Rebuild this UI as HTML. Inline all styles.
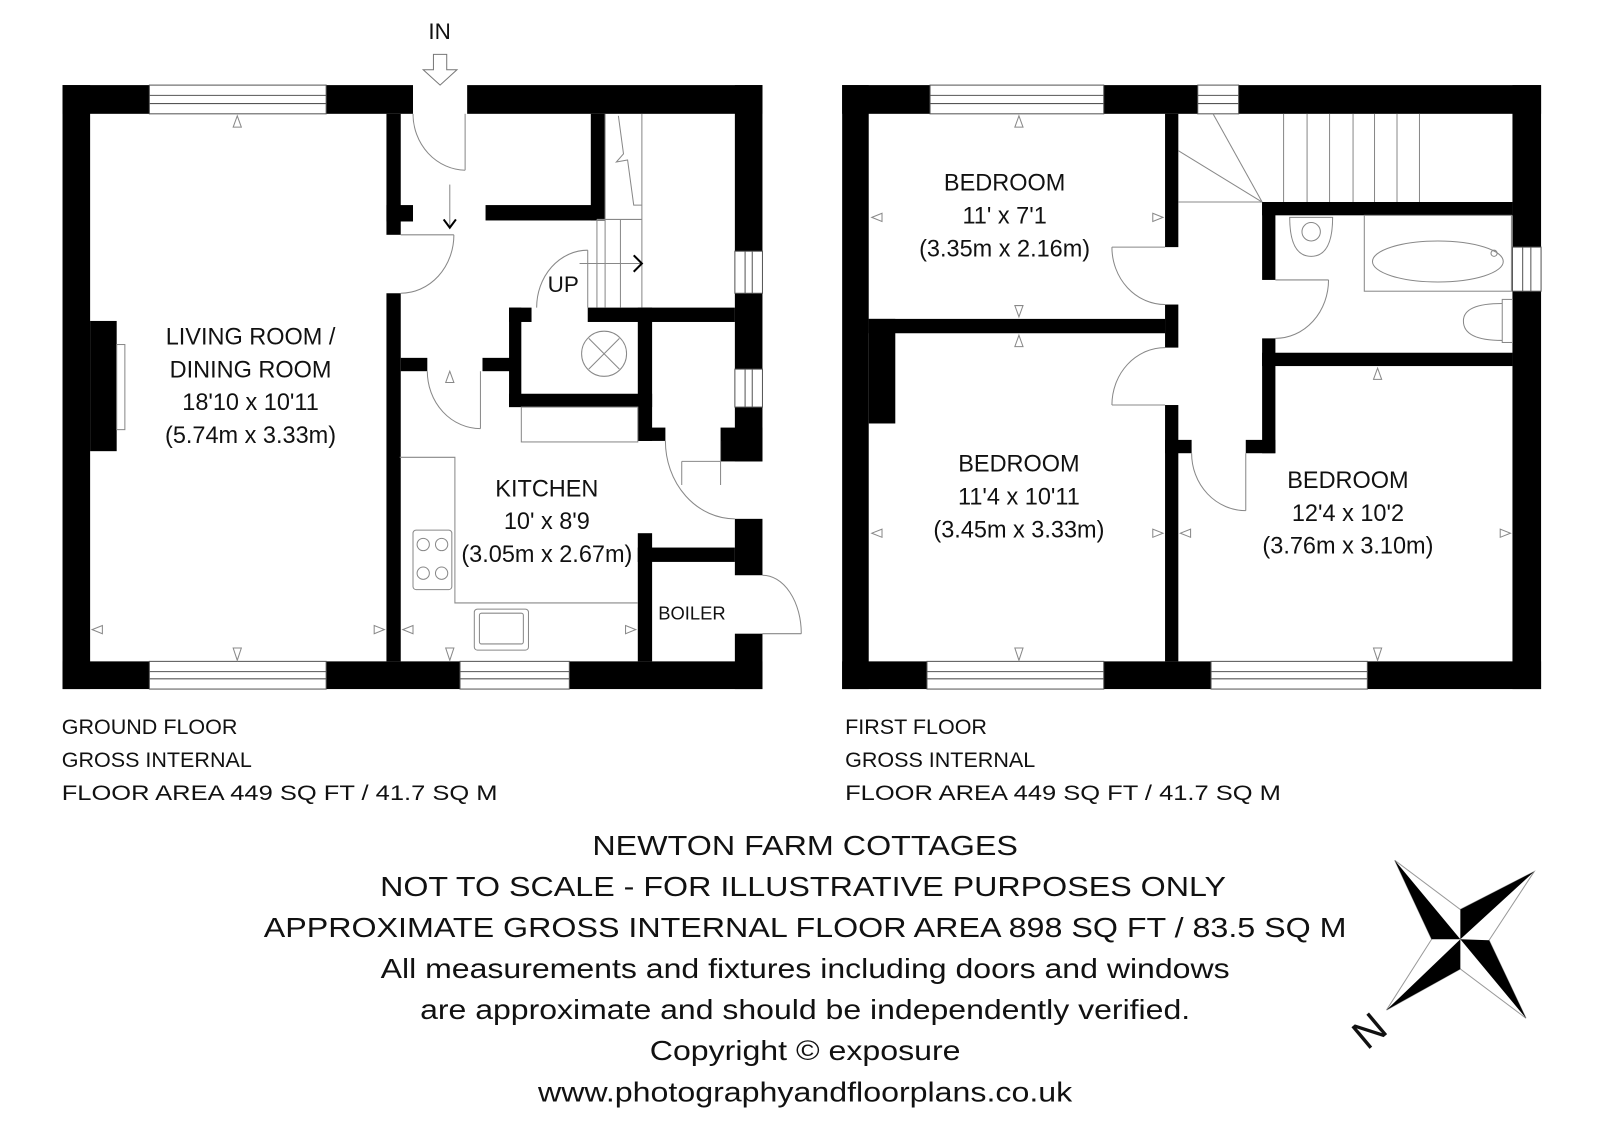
<!DOCTYPE html>
<html><head><meta charset="utf-8"><style>
html,body{margin:0;padding:0;background:#fff;}
svg{display:block;}
text{font-family:"Liberation Sans",Arial,sans-serif;fill:#111;}
</style></head><body>
<svg width="1600" height="1131" viewBox="0 0 1560 1103" xmlns="http://www.w3.org/2000/svg">
<rect x="0" y="0" width="1560" height="1103" fill="#fff"/>
<g transform="scale(0.9965,1)">
<g fill="#000">
<rect x="61" y="83" width="27" height="589"/>
<rect x="719" y="83" width="27" height="367"/>
<rect x="719" y="506" width="27" height="55"/>
<rect x="719" y="618" width="27" height="54"/>
<rect x="61" y="83" width="85" height="28"/>
<rect x="319" y="83" width="85" height="28"/>
<rect x="457" y="83" width="289" height="28"/>
<rect x="61" y="645" width="85" height="27"/>
<rect x="319" y="645" width="131" height="27"/>
<rect x="557" y="645" width="189" height="27"/>
<rect x="88" y="313" width="26" height="127"/>
<rect x="378" y="111" width="14" height="118"/>
<rect x="378" y="200" width="26" height="16"/>
<rect x="378" y="286" width="14" height="359"/>
<rect x="475" y="200" width="117" height="15"/>
<rect x="578" y="111" width="14" height="104"/>
<rect x="575" y="300" width="144" height="14"/>
<rect x="498" y="300" width="12" height="97"/>
<rect x="498" y="300" width="22" height="14"/>
<rect x="498" y="384" width="140" height="13"/>
<rect x="624" y="300" width="14" height="130"/>
<rect x="624" y="417" width="27" height="13"/>
<rect x="705" y="417" width="41" height="33"/>
<rect x="392" y="349" width="26" height="13"/>
<rect x="472" y="349" width="27" height="13"/>
<rect x="624" y="520" width="14" height="125"/>
<rect x="624" y="534" width="95" height="14"/>
</g>
<g fill="#fff" stroke="#555" stroke-width="1">
<rect x="146" y="83" width="173" height="28"/>
<line x1="146" y1="93" x2="319" y2="93"/><line x1="146" y1="101" x2="319" y2="101"/>
<rect x="146" y="645" width="173" height="27"/>
<line x1="146" y1="655" x2="319" y2="655"/><line x1="146" y1="662" x2="319" y2="662"/>
<rect x="450" y="645" width="107" height="27"/>
<line x1="450" y1="655" x2="557" y2="655"/><line x1="450" y1="662" x2="557" y2="662"/>
<rect x="719" y="245" width="27" height="41"/>
<line x1="729" y1="245" x2="729" y2="286"/><line x1="736" y1="245" x2="736" y2="286"/>
<rect x="719" y="360" width="27" height="37"/>
<line x1="729" y1="360" x2="729" y2="397"/><line x1="736" y1="360" x2="736" y2="397"/>
</g>
<g fill="none" stroke="#888" stroke-width="1">
<rect x="114" y="336" width="8" height="83"/>
<line x1="455" y1="111" x2="455" y2="166"/>
<path d="M404 111 A52 55 0 0 0 455 166"/>
<line x1="392" y1="229" x2="444" y2="229"/>
<path d="M444 229 A52 57 0 0 1 392 286"/>
<line x1="470" y1="362" x2="470" y2="418"/>
<path d="M418 362 A52 56 0 0 0 470 418"/>
<line x1="592" y1="111" x2="592" y2="300"/>
<line x1="628" y1="111" x2="628" y2="300"/>
<line x1="584" y1="214" x2="584" y2="300"/>
<line x1="607" y1="214" x2="607" y2="300"/>
<line x1="584" y1="214" x2="628" y2="214"/>
<path d="M605 113 L610 150 L603 158 L614 156 L620 200 L628 200"/>
<line x1="575" y1="244" x2="575" y2="300"/>
<path d="M575 244 A50 56 0 0 0 525 300"/>
<rect x="510" y="397" width="114" height="34"/>
<path d="M651 430 A68 76 0 0 0 719 506"/>
<line x1="667" y1="450" x2="705" y2="450"/>
<line x1="667" y1="450" x2="667" y2="473"/>
<line x1="705" y1="430" x2="705" y2="473"/>
<line x1="746" y1="618" x2="784" y2="618"/>
<path d="M746 561 A38 57 0 0 1 784 618"/>
<polyline points="391,446 445,446 445,588 624,588"/>
<rect x="404" y="517" width="38" height="58" rx="3"/>
<circle cx="414" cy="531" r="6"/><circle cx="432" cy="531" r="6"/>
<circle cx="414" cy="559" r="6"/><circle cx="432" cy="559" r="6"/>
<rect x="464" y="594" width="53" height="40" rx="3"/>
<rect x="469" y="598" width="43" height="30" rx="2"/>
<circle cx="591" cy="345" r="22"/>
<line x1="576" y1="330" x2="606" y2="360"/><line x1="606" y1="330" x2="576" y2="360"/>
<path d="M232 113 L228 124 L236 124 Z M232 644 L228 632 L236 632 Z M90 614 L100 610 L100 618 Z M376 614 L366 610 L366 618 Z M394 614 L404 610 L404 618 Z M440 644 L436 632 L444 632 Z M622 614 L612 610 L612 618 Z M440 362 L436 373 L444 373 Z"/>
</g>
<g fill="none" stroke="#000" stroke-width="2">
<line x1="440" y1="180" x2="440" y2="222" stroke="#888" stroke-width="1"/>
<polyline points="434,214 440,222 446,214"/>
<line x1="567" y1="257" x2="628" y2="257" stroke="#888" stroke-width="1"/>
<polyline points="620,249 628,257 620,265"/>
</g>
<path d="M424 53 L437 53 L437 68 L447 68 L430.5 83 L414 68 L424 68 Z" fill="#fff" stroke="#777" stroke-width="1"/>
<text x="430" y="38" font-size="22" text-anchor="middle">IN</text>
<text x="551" y="285" font-size="22" text-anchor="middle">UP</text>

<g font-size="23" text-anchor="middle">
<text x="245" y="336">LIVING ROOM /</text>
<text x="245" y="368">DINING ROOM</text>
<text x="245" y="400">18'10 x 10'11</text>
<text x="245" y="432">(5.74m x 3.33m)</text>
<text x="535" y="484">KITCHEN</text>
<text x="535" y="516">10' x 8'9</text>
<text x="535" y="548">(3.05m x 2.67m)</text>
</g>
<text x="677" y="604" font-size="18" text-anchor="middle">BOILER</text>

<g fill="#000">
<rect x="824" y="83" width="26" height="589"/>
<rect x="1480" y="83" width="28" height="158"/>
<rect x="1480" y="284" width="28" height="388"/>
<rect x="824" y="83" width="86" height="28"/>
<rect x="1080" y="83" width="92" height="28"/>
<rect x="1212" y="83" width="296" height="28"/>
<rect x="824" y="645" width="83" height="27"/>
<rect x="1080" y="645" width="105" height="27"/>
<rect x="1338" y="645" width="170" height="27"/>
<rect x="850" y="311" width="290" height="14"/>
<rect x="850" y="311" width="26" height="102"/>
<rect x="1140" y="111" width="13" height="130"/>
<rect x="1140" y="297" width="13" height="42"/>
<rect x="1140" y="395" width="13" height="250"/>
<rect x="1140" y="429" width="26" height="13"/>
<rect x="1235" y="197" width="245" height="13"/>
<rect x="1235" y="197" width="13" height="76"/>
<rect x="1235" y="330" width="13" height="112"/>
<rect x="1219" y="429" width="29" height="13"/>
<rect x="1235" y="344" width="245" height="13"/>
</g>
<g fill="#fff" stroke="#555" stroke-width="1">
<rect x="910" y="83" width="170" height="28"/>
<line x1="910" y1="93" x2="1080" y2="93"/><line x1="910" y1="101" x2="1080" y2="101"/>
<rect x="1172" y="83" width="40" height="28"/>
<line x1="1172" y1="93" x2="1212" y2="93"/><line x1="1172" y1="101" x2="1212" y2="101"/>
<rect x="907" y="645" width="173" height="27"/>
<line x1="907" y1="655" x2="1080" y2="655"/><line x1="907" y1="662" x2="1080" y2="662"/>
<rect x="1185" y="645" width="153" height="27"/>
<line x1="1185" y1="655" x2="1338" y2="655"/><line x1="1185" y1="662" x2="1338" y2="662"/>
<rect x="1480" y="241" width="28" height="43"/>
<line x1="1490" y1="241" x2="1490" y2="284"/><line x1="1498" y1="241" x2="1498" y2="284"/>
</g>
<g fill="none" stroke="#888" stroke-width="1">
<line x1="1153" y1="197" x2="1235" y2="197"/>
<line x1="1153" y1="147" x2="1235" y2="197"/>
<line x1="1187" y1="111" x2="1235" y2="197"/>
<line x1="1256" y1="111" x2="1256" y2="197"/><line x1="1279" y1="111" x2="1279" y2="197"/>
<line x1="1301" y1="111" x2="1301" y2="197"/><line x1="1324" y1="111" x2="1324" y2="197"/>
<line x1="1345" y1="111" x2="1345" y2="197"/><line x1="1367" y1="111" x2="1367" y2="197"/>
<line x1="1389" y1="111" x2="1389" y2="197"/>
<line x1="1088" y1="241" x2="1140" y2="241"/>
<path d="M1088 241 A52 56 0 0 0 1140 297"/>
<line x1="1088" y1="395" x2="1140" y2="395"/>
<path d="M1088 395 A52 56 0 0 1 1140 339"/>
<line x1="1248" y1="273" x2="1300" y2="273"/>
<path d="M1300 273 A52 57 0 0 1 1248 330"/>
<line x1="1219" y1="442" x2="1219" y2="498"/>
<path d="M1166 442 A53 56 0 0 0 1219 498"/>
<rect x="1335" y="210" width="144" height="74"/>
<ellipse cx="1407" cy="255" rx="64" ry="20"/>
<circle cx="1462" cy="247" r="3"/>
<path d="M1262 212 Q1262 250 1283 250 Q1304 250 1304 212 Z"/>
<circle cx="1283" cy="226" r="9"/>
<rect x="1470" y="292" width="10" height="42"/>
<path d="M1470 296 Q1432 296 1432 313 Q1432 332 1470 332"/>
<path d="M997 113 L993 124 L1001 124 Z M853 212 L863 208 L863 216 Z M1138 212 L1128 208 L1128 216 Z M997 309 L993 298 L1001 298 Z M997 327 L993 338 L1001 338 Z M853 520 L863 516 L863 524 Z M1138 520 L1128 516 L1128 524 Z M1155 520 L1165 516 L1165 524 Z M997 644 L993 632 L1001 632 Z M1348 359 L1344 370 L1352 370 Z M1478 520 L1468 516 L1468 524 Z M1348 644 L1344 632 L1352 632 Z"/>
</g>
<g font-size="23" text-anchor="middle">
<text x="983" y="186">BEDROOM</text>
<text x="983" y="218">11' x 7'1</text>
<text x="983" y="250">(3.35m x 2.16m)</text>
<text x="997" y="460">BEDROOM</text>
<text x="997" y="492">11'4 x 10'11</text>
<text x="997" y="524">(3.45m x 3.33m)</text>
<text x="1319" y="476">BEDROOM</text>
<text x="1319" y="508">12'4 x 10'2</text>
<text x="1319" y="540">(3.76m x 3.10m)</text>
</g>
</g>
<g font-size="21">
<text x="60" y="716">GROUND FLOOR</text>
<text x="60" y="748">GROSS INTERNAL</text>
<text x="60" y="780" textLength="425" lengthAdjust="spacingAndGlyphs">FLOOR AREA 449 SQ FT / 41.7 SQ M</text>
<text x="824" y="716">FIRST FLOOR</text>
<text x="824" y="748">GROSS INTERNAL</text>
<text x="824" y="780" textLength="425" lengthAdjust="spacingAndGlyphs">FLOOR AREA 449 SQ FT / 41.7 SQ M</text>
</g>
<g font-size="27" text-anchor="middle">
<text x="785" y="834" textLength="415" lengthAdjust="spacingAndGlyphs">NEWTON FARM COTTAGES</text>
<text x="783" y="874" textLength="825" lengthAdjust="spacingAndGlyphs">NOT TO SCALE - FOR ILLUSTRATIVE PURPOSES ONLY</text>
<text x="785" y="914" textLength="1056" lengthAdjust="spacingAndGlyphs">APPROXIMATE GROSS INTERNAL FLOOR AREA 898 SQ FT / 83.5 SQ M</text>
<text x="785" y="954" textLength="828" lengthAdjust="spacingAndGlyphs">All measurements and fixtures including doors and windows</text>
<text x="785" y="994" textLength="751" lengthAdjust="spacingAndGlyphs">are approximate and should be independently verified.</text>
<text x="785" y="1034" textLength="303" lengthAdjust="spacingAndGlyphs">Copyright © exposure</text>
<text x="785" y="1074" textLength="521" lengthAdjust="spacingAndGlyphs">www.photographyandfloorplans.co.uk</text>
</g>
<g stroke="#999" stroke-width="1" fill="none">
<polygon points="1360,839 1424,887 1496,850 1452,917 1488,993 1424,945 1352,985 1396,916"/>
</g>
<g fill="#000">
<polygon points="1360,839 1396,916 1424,916"/>
<polygon points="1424,887 1496,850 1424,916"/>
<polygon points="1424,916 1452,917 1488,993"/>
<polygon points="1424,916 1424,945 1352,985"/>
</g>
<text x="1335" y="1019" font-size="40" text-anchor="middle" transform="rotate(-40 1335 1005)">N</text>
</svg>
</body></html>
